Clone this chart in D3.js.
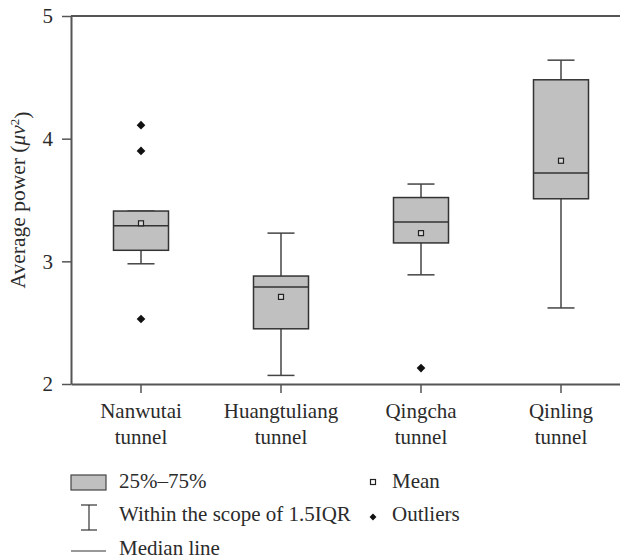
<!DOCTYPE html>
<html>
<head>
<meta charset="utf-8">
<script src="https://cdn.jsdelivr.net/npm/d3@7"></script>
<style>
  body { margin: 0; background: #fff; }
  svg text { font-family: "Liberation Serif", "DejaVu Serif", serif !important; fill: #2b2b2b; }
</style>
</head>
<body>
<div id="chart-area"></div>
<script>
// tunnels and box-plot stats
var tunnels = ["Nanwutai tunnel", "Huangtuliang tunnel", "Qingcha tunnel", "Qinling tunnel"];
var q1 = [3.09, 2.45, 3.15, 3.51];
var median = [3.29, 2.79, 3.32, 3.72];
var q3 = [3.41, 2.88, 3.52, 4.48];
var whiskerLow = [2.98, 2.07, 2.89, 2.62];
var whiskerHigh = [3.41, 3.23, 3.63, 4.64];
var means = [3.31, 2.71, 3.23, 3.82];
var outliers = [[4.11, 3.90, 2.53], [], [2.13], []];
var yTicks = [2, 3, 4, 5];

var width = 620;
var height = 559;
var margin = { left: 71, top: 16, right: -11, bottom: 175 };
var innerW = width - margin.left - margin.right;
var innerH = height - margin.top - margin.bottom;
var serif = "'Liberation Serif', 'DejaVu Serif', serif";

var svg = d3.select('#chart-area')
    .append("svg")
    .attr("width", width)
    .attr("height", height)
    .attr("font-family", serif);

var g = svg.append("g")
    .attr("transform", "translate(" + margin.left + "," + margin.top + ")");

var x = d3.scaleBand()
    .domain(tunnels)
    .range([0, innerW]);

var y = d3.scaleLinear()
    .domain([2, 5])
    .range([innerH, 0]);

var axisColor = "#555";

// top frame line
g.append("line")
    .attr("x1", 0)
    .attr("x2", width - margin.left)
    .attr("y1", y(5))
    .attr("y2", y(5))
    .attr("stroke", axisColor)
    .attr("stroke-width", 2);

// x axis
var xAxis = g.append("g")
    .attr("transform", "translate(0," + innerH + ")")
    .call(d3.axisBottom(x).tickSize(9).tickSizeOuter(0).tickPadding(8));
xAxis.attr("font-family", serif);
xAxis.select(".domain").attr("stroke", axisColor).attr("stroke-width", 2);
xAxis.selectAll(".tick line").attr("stroke", axisColor).attr("stroke-width", 1.5);
xAxis.selectAll(".tick text")
    .attr("fill", "#2b2b2b")
    .attr("style", "font-size: 21px")
    .each(function (d) {
        var words = d.split(" ");
        var t = d3.select(this).text("");
        t.append("tspan").attr("x", 0).attr("dy", "0.8em").text(words[0]);
        t.append("tspan").attr("x", 0).attr("dy", "1.25em").text(words[1]);
    });

// y axis
var yAxis = g.append("g")
    .call(d3.axisLeft(y).tickValues(yTicks).tickFormat(d3.format("d")).tickSize(9).tickSizeOuter(0).tickPadding(9));
yAxis.attr("font-family", serif);
yAxis.select(".domain").attr("stroke", axisColor).attr("stroke-width", 2);
yAxis.selectAll(".tick line").attr("stroke", axisColor).attr("stroke-width", 1.5);
yAxis.selectAll(".tick text").attr("fill", "#2b2b2b").attr("style", "font-size: 21px");

// y label
var yLabel = g.append("text")
    .attr("x", -innerH / 2)
    .attr("y", -46)
    .attr("style", "font-size: 21.5px")
    .attr("text-anchor", "middle")
    .attr("transform", "rotate(-90)");
yLabel.append("tspan").text("Average power (");
yLabel.append("tspan").attr("font-style", "italic").text("μv");
yLabel.append("tspan").attr("dy", "-0.45em").attr("style", "font-size: 13px").text("2");
yLabel.append("tspan").attr("dy", "0.45em").text(")");

// boxes
var boxW = 55;
var capW = 27;
var boxes = g.selectAll(".box")
    .data(tunnels)
    .enter()
    .append("g")
    .attr("class", "box")
    .attr("transform", function (d) { return "translate(" + (x(d) + x.bandwidth() / 2) + ",0)"; });

boxes.append("line")
    .attr("x1", 0).attr("x2", 0)
    .attr("y1", function (d, i) { return y(whiskerLow[i]); })
    .attr("y2", function (d, i) { return y(whiskerHigh[i]); })
    .attr("stroke", "#444").attr("stroke-width", 1.5);

boxes.append("line")
    .attr("x1", -capW / 2).attr("x2", capW / 2)
    .attr("y1", function (d, i) { return y(whiskerLow[i]); })
    .attr("y2", function (d, i) { return y(whiskerLow[i]); })
    .attr("stroke", "#444").attr("stroke-width", 1.5);

boxes.append("line")
    .attr("x1", -capW / 2).attr("x2", capW / 2)
    .attr("y1", function (d, i) { return y(whiskerHigh[i]); })
    .attr("y2", function (d, i) { return y(whiskerHigh[i]); })
    .attr("stroke", "#444").attr("stroke-width", 1.5);

boxes.append("rect")
    .attr("x", -boxW / 2)
    .attr("width", boxW)
    .attr("y", function (d, i) { return y(q3[i]); })
    .attr("height", function (d, i) { return y(q1[i]) - y(q3[i]); })
    .attr("fill", "#c0c0c0")
    .attr("stroke", "#333")
    .attr("stroke-width", 1.5);

boxes.append("line")
    .attr("x1", -boxW / 2).attr("x2", boxW / 2)
    .attr("y1", function (d, i) { return y(median[i]); })
    .attr("y2", function (d, i) { return y(median[i]); })
    .attr("stroke", "#333").attr("stroke-width", 1.5);

boxes.append("rect")
    .attr("x", -2.5)
    .attr("y", function (d, i) { return y(means[i]) - 2.5; })
    .attr("width", 5)
    .attr("height", 5)
    .attr("fill", "#d8d8d8")
    .attr("stroke", "#222")
    .attr("stroke-width", 1.2);

var diamond = d3.symbol().type(d3.symbolDiamond2).size(48);

boxes.each(function (d, i) {
    d3.select(this).selectAll(".outlier")
        .data(outliers[i])
        .enter()
        .append("path")
        .attr("class", "outlier")
        .attr("d", diamond)
        .attr("transform", function (v) { return "translate(0," + y(v) + ")"; })
        .attr("fill", "#111");
});

// legend
var legend = svg.append("g");
var legendFont = "font-size: 21px";

legend.append("rect")
    .attr("x", 71).attr("y", 475).attr("width", 35).attr("height", 15)
    .attr("fill", "#c0c0c0").attr("stroke", "#444").attr("stroke-width", 1.2);
legend.append("text").attr("x", 119).attr("y", 488).attr("style", legendFont).text("25%–75%");

legend.append("line").attr("x1", 89).attr("x2", 89).attr("y1", 505).attr("y2", 530)
    .attr("stroke", "#333").attr("stroke-width", 1.2);
legend.append("line").attr("x1", 81).attr("x2", 97).attr("y1", 505).attr("y2", 505)
    .attr("stroke", "#333").attr("stroke-width", 1.2);
legend.append("line").attr("x1", 81).attr("x2", 97).attr("y1", 530).attr("y2", 530)
    .attr("stroke", "#333").attr("stroke-width", 1.2);
legend.append("text").attr("x", 119).attr("y", 521).attr("style", legendFont).text("Within the scope of 1.5IQR");

legend.append("line").attr("x1", 71).attr("x2", 106).attr("y1", 551).attr("y2", 551)
    .attr("stroke", "#333").attr("stroke-width", 1.2);
legend.append("text").attr("x", 119).attr("y", 555).attr("style", legendFont).text("Median line");

legend.append("rect").attr("x", 370.5).attr("y", 479.5).attr("width", 5).attr("height", 5)
    .attr("fill", "#fff").attr("stroke", "#222").attr("stroke-width", 1.2);
legend.append("text").attr("x", 392).attr("y", 488).attr("style", legendFont).text("Mean");

legend.append("path").attr("d", d3.symbol().type(d3.symbolDiamond2).size(30))
    .attr("transform", "translate(373,517)").attr("fill", "#111");
legend.append("text").attr("x", 392).attr("y", 521).attr("style", legendFont).text("Outliers");
</script>
</body>
</html>
